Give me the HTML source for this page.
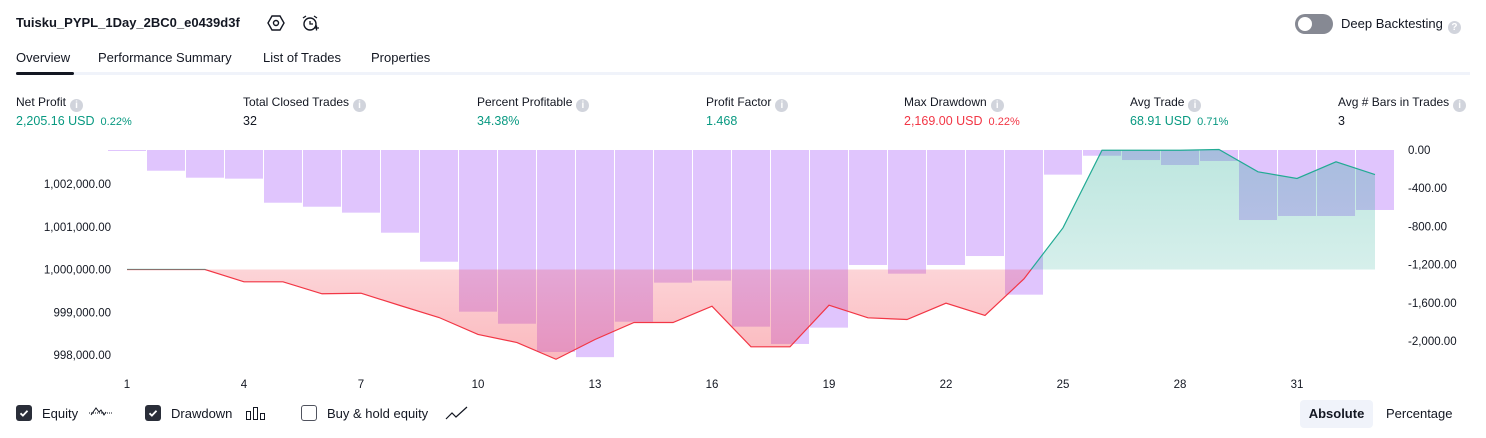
<!DOCTYPE html>
<html><head><meta charset="utf-8"><style>
body{margin:0;width:1486px;height:438px;background:#fff;font-family:"Liberation Sans",sans-serif;color:#131722;position:relative;overflow:hidden}
.a{position:absolute;white-space:nowrap}
.lbl{font-size:12px;color:#131722}
.val{font-size:12.5px}
.g{color:#089981}.r{color:#f23645}
.info{display:inline-block;width:13px;height:13px;border-radius:50%;background:#d1d4dc;color:#fff;font-size:10px;text-align:center;line-height:13px;vertical-align:-2px;margin-left:4px;font-weight:bold}
.pct{font-size:11px;margin-left:6px}
.cb{position:absolute;width:16px;height:16px;border-radius:3px;top:405px}
.tk{font-size:11.5px;fill:#131722;font-family:"Liberation Sans",sans-serif}
</style></head><body>
<div class="a" style="left:16px;top:15px;font-size:13px;font-weight:bold">Tuisku_PYPL_1Day_2BC0_e0439d3f</div>
<svg class="a" style="left:267px;top:14px" width="18" height="18"><polygon points="5,2 13,2 17,9 13,16 5,16 1,9" fill="none" stroke="#131722" stroke-width="1.4"/><circle cx="9" cy="9" r="2.5" fill="none" stroke="#131722" stroke-width="1.4"/></svg>
<svg class="a" style="left:301px;top:14px" width="18" height="18"><circle cx="9" cy="10" r="6" fill="none" stroke="#131722" stroke-width="1.4"/><path d="M9 7v3h3M2 4l3-2M16 4l-3-2M13 14h5M15.5 11.5v5" stroke="#131722" stroke-width="1.3" fill="none"/></svg>
<div class="a" style="left:1295px;top:14px;width:38px;height:20px;border-radius:10px;background:#868993"><div style="position:absolute;left:3px;top:3px;width:14px;height:14px;border-radius:50%;background:#fff"></div></div>
<div class="a" style="left:1341px;top:16px;font-size:13px">Deep Backtesting<span class="info" style="margin-left:5px">?</span></div>
<div class="a" style="left:16px;top:50px;font-size:13px">Overview</div>
<div class="a" style="left:98px;top:50px;font-size:13px">Performance Summary</div>
<div class="a" style="left:263px;top:50px;font-size:13px">List of Trades</div>
<div class="a" style="left:371px;top:50px;font-size:13px">Properties</div>
<div class="a" style="left:16px;top:72px;width:1454px;height:3px;background:#f0f3fa"></div>
<div class="a" style="left:16px;top:72px;width:58px;height:3px;border-radius:2px;background:#131722"></div>

<div class="a lbl" style="left:16px;top:95px">Net Profit<span class="info">i</span></div>
<div class="a val g" style="left:16px;top:114px">2,205.16 USD<span class="pct">0.22%</span></div>
<div class="a lbl" style="left:243px;top:95px">Total Closed Trades<span class="info">i</span></div>
<div class="a val" style="left:243px;top:114px">32</div>
<div class="a lbl" style="left:477px;top:95px">Percent Profitable<span class="info">i</span></div>
<div class="a val g" style="left:477px;top:114px">34.38%</div>
<div class="a lbl" style="left:706px;top:95px">Profit Factor<span class="info">i</span></div>
<div class="a val g" style="left:706px;top:114px">1.468</div>
<div class="a lbl" style="left:904px;top:95px">Max Drawdown<span class="info">i</span></div>
<div class="a val r" style="left:904px;top:114px">2,169.00 USD<span class="pct">0.22%</span></div>
<div class="a lbl" style="left:1130px;top:95px">Avg Trade<span class="info">i</span></div>
<div class="a val g" style="left:1130px;top:114px">68.91 USD<span class="pct">0.71%</span></div>
<div class="a lbl" style="left:1338px;top:95px">Avg # Bars in Trades<span class="info">i</span></div>
<div class="a val" style="left:1338px;top:114px">3</div>

<svg id="chart" class="a" style="left:0;top:0" width="1486" height="395"></svg>

<div class="cb" style="left:16px;background:#2a2e39"><svg width="16" height="16"><path d="M4.5 8.3l2.4 2.3 4.6-4.8" stroke="#fff" stroke-width="1.8" fill="none"/></svg></div>
<div class="a" style="left:42px;top:406px;font-size:13px">Equity</div>
<svg class="a" style="left:88px;top:404px" width="26" height="18"><path d="M1 9h24" stroke="#131722" stroke-dasharray="1 1"/><path d="M3 11l5-7 3 4 2-2 3 5 2-3" stroke="#131722" fill="none"/></svg>
<div class="cb" style="left:145px;background:#2a2e39"><svg width="16" height="16"><path d="M4.5 8.3l2.4 2.3 4.6-4.8" stroke="#fff" stroke-width="1.8" fill="none"/></svg></div>
<div class="a" style="left:171px;top:406px;font-size:13px">Drawdown</div>
<svg class="a" style="left:245px;top:404px" width="22" height="18"><rect x="1.5" y="7.5" width="4" height="8" fill="none" stroke="#131722"/><rect x="8.5" y="3.5" width="4" height="12" fill="none" stroke="#131722"/><rect x="15.5" y="9.5" width="4" height="6" fill="none" stroke="#131722"/></svg>
<div class="cb" style="left:301px;border:1.3px solid #50535e;box-sizing:border-box"></div>
<div class="a" style="left:327px;top:406px;font-size:13px">Buy &amp; hold equity</div>
<svg class="a" style="left:445px;top:404px" width="24" height="18"><path d="M1 15l6-6 4 4 11-10" stroke="#131722" fill="none" stroke-width="1.2"/></svg>
<div class="a" style="left:1300px;top:400px;width:73px;height:28px;border-radius:4px;background:#f0f3fa;font-size:13px;font-weight:bold;text-align:center;line-height:28px">Absolute</div>
<div class="a" style="left:1386px;top:406px;font-size:13px">Percentage</div>

<script>
const trades = [1,2,3,4,5,6,7,8,9,10,11,12,13,14,15,16,17,18,19,20,21,22,23,24,25,26,27,28,29,30,31,32,33];
const equity = [0,0,0,-288,-288,-568,-555,-842,-1123,-1520,-1708,-2100,-1637,-1240,-1240,-858,-1808,-1808,-835,-1130,-1170,-788,-1076,-218,975,2790,2790,2790,2807,2285,2129,2520,2222];
const drawdown = [-10,-217,-290,-300,-552,-594,-656,-866,-1170,-1693,-1819,-2115,-2169,-1798,-1389,-1368,-1850,-2031,-1860,-1204,-1295,-1204,-1110,-1515,-258,-60,-105,-157,-115,-733,-691,-691,-628];
const xTicks = [1,4,7,10,13,16,19,22,25,28,31];
const leftTicks = [998000,999000,1000000,1001000,1002000];
const rightTicks = [0,-400,-800,-1200,-1600,-2000];
const initialCapital = 1000000;

const NS='http://www.w3.org/2000/svg';
const svg=document.getElementById('chart');
const X=t=>127+(t-1)*39;
const YL=v=>269.5-(v-initialCapital)*0.04275;
const YE=v=>YL(initialCapital+v);
const YR=v=>150-v*0.0955;
function mk(tag,attrs,parent){const e=document.createElementNS(NS,tag);for(const k in attrs)e.setAttribute(k,attrs[k]);(parent||svg).appendChild(e);return e;}

const defs=mk('defs',{});
defs.innerHTML='<linearGradient id="gg" x1="0" y1="0" x2="0" y2="1"><stop offset="0" stop-color="#22ab94" stop-opacity="0.3"/><stop offset="1" stop-color="#22ab94" stop-opacity="0.1"/></linearGradient>'+
'<linearGradient id="rg" x1="0" y1="0" x2="0" y2="1"><stop offset="0" stop-color="#f23645" stop-opacity="0.03"/><stop offset="1" stop-color="#f23645" stop-opacity="0.35"/></linearGradient>'+
'<clipPath id="above"><rect x="0" y="0" width="1486" height="'+YE(0)+'"/></clipPath>'+
'<clipPath id="below"><rect x="0" y="'+YE(0)+'" width="1486" height="200"/></clipPath>';

// drawdown bars
drawdown.forEach((v,i)=>{
  const cx=X(i+1);
  const b=mk('rect',{x:cx-19,y:YR(0),width:38,height:Math.max(1,YR(v)-YR(0)),fill:'#c795fb','fill-opacity':0.55});
  
  
});

// equity area & line
const pts=equity.map((v,i)=>[X(trades[i]),YE(v)]);
const line='M'+pts.map(p=>p.join(',')).join('L');
const area=line+'L'+pts[pts.length-1][0]+','+YE(0)+'L'+pts[0][0]+','+YE(0)+'Z';
const ga=mk('path',{d:area,fill:'url(#gg)','clip-path':'url(#above)'});


const ra=mk('path',{d:area,fill:'url(#rg)','clip-path':'url(#below)'});


const gl=mk('path',{d:line,fill:'none',stroke:'#22ab94','stroke-width':1.2,'clip-path':'url(#above)'});


const rl=mk('path',{d:line,fill:'none',stroke:'#f23645','stroke-width':1.2,'clip-path':'url(#below)'});



xTicks.forEach(t=>{const e=mk('text',{x:X(t),y:388,'text-anchor':'middle',class:'tk'});e.textContent=t;
  
  });
leftTicks.forEach(v=>{const e=mk('text',{x:111,y:YL(v)+4,'text-anchor':'end',class:'tk'});e.textContent=v.toLocaleString('en-US',{minimumFractionDigits:2});
  
  });
rightTicks.forEach(v=>{const e=mk('text',{x:1408,y:YR(v)+4,'text-anchor':'start',class:'tk'});e.textContent=v.toLocaleString('en-US',{minimumFractionDigits:2});
  
  });
</script>
</body></html>
